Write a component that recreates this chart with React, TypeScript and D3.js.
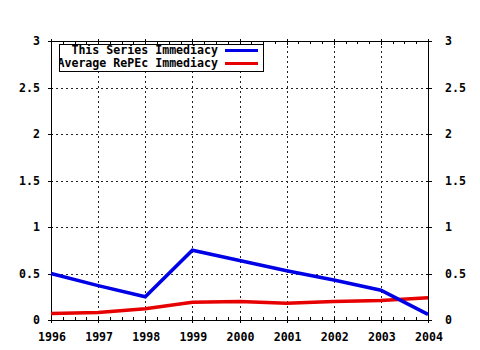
import React from "react";
import * as d3 from "d3";

const years = [1996, 1997, 1998, 1999, 2000, 2001, 2002, 2003, 2004];
const seriesImmediacy = [0.5, 0.37, 0.25, 0.75, 0.64, 0.53, 0.43, 0.32, 0.06];
const repecImmediacy = [0.07, 0.08, 0.12, 0.19, 0.2, 0.18, 0.2, 0.21, 0.24];
const yTicks = [0, 0.5, 1, 1.5, 2, 2.5, 3];
const yTickLabels = ["0", "0.5", "1", "1.5", "2", "2.5", "3"];
const legendLabels = ["This Series Immediacy", "Average RePEc Immediacy"];

const W = 480, H = 350;
const L = 51, R = 428, T = 41, B = 320;
const font = "'DejaVu Sans Mono', monospace";
const BLUE = "#0000e6";
const RED = "#e60000";

export default function App() {
  const x = d3.scaleLinear().domain([1996, 2004]).range([L, R]);
  const y = d3.scaleLinear().domain([0, 3]).range([B, T]);
  const line = d3.line<number>().x((_, i) => x(years[i])).y((d) => y(d));
  const minor: number[] = [];
  for (let i = 0; i < years.length - 1; i++) {
    for (let k = 1; k < 4; k++) minor.push(years[i] + k / 4);
  }
  return (
    <svg width={W} height={H} style={{ position: "absolute", left: 0, top: 0, background: "#fff" }}>
      <rect x={0} y={0} width={W} height={H} fill="#fff" />
      {/* grid */}
      {years.slice(1, -1).map((yr) => (
        <line key={"gx" + yr} x1={Math.round(x(yr)) + 0.5} x2={Math.round(x(yr)) + 0.5} y1={T} y2={B} stroke="#222" strokeDasharray="2,3" strokeWidth={1} />
      ))}
      {yTicks.slice(1, -1).map((t) => (
        <line key={"gy" + t} x1={L} x2={R} y1={Math.round(y(t)) + 0.5} y2={Math.round(y(t)) + 0.5} stroke="#222" strokeDasharray="2,3" strokeWidth={1} />
      ))}
      {/* frame */}
      <rect x={L + 0.5} y={T + 0.5} width={R - L} height={B - T} fill="none" stroke="#000" strokeWidth={1} />
      {/* x ticks */}
      {years.map((yr) => (
        <g key={"xt" + yr}>
          <line x1={Math.round(x(yr)) + 0.5} x2={Math.round(x(yr)) + 0.5} y1={B - 3} y2={B + 3} stroke="#000" />
          <line x1={Math.round(x(yr)) + 0.5} x2={Math.round(x(yr)) + 0.5} y1={T - 2} y2={T + 4} stroke="#000" />
          <text x={x(yr) + 1} y={341} textAnchor="middle" fontFamily={font} fontWeight="bold" fontSize={11.6} fill="#000">{yr}</text>
        </g>
      ))}
      {minor.map((m, i) => (
        <g key={"mt" + i}>
          <line x1={Math.round(x(m)) + 0.5} x2={Math.round(x(m)) + 0.5} y1={B - 3} y2={B} stroke="#000" />
          <line x1={Math.round(x(m)) + 0.5} x2={Math.round(x(m)) + 0.5} y1={T} y2={T + 3} stroke="#000" />
        </g>
      ))}
      {/* y ticks */}
      {yTicks.map((t, i) => (
        <g key={"yt" + t}>
          <line x1={L - 3} x2={L + 2} y1={Math.round(y(t)) + 0.5} y2={Math.round(y(t)) + 0.5} stroke="#000" />
          <line x1={R - 2} x2={R + 4} y1={Math.round(y(t)) + 0.5} y2={Math.round(y(t)) + 0.5} stroke="#000" />
          <text x={40} y={y(t) + 4} textAnchor="end" fontFamily={font} fontWeight="bold" fontSize={11.6} fill="#000">{yTickLabels[i]}</text>
          <text x={445} y={y(t) + 4} textAnchor="start" fontFamily={font} fontWeight="bold" fontSize={11.6} fill="#000">{yTickLabels[i]}</text>
        </g>
      ))}
      {/* series */}
      <path d={line(repecImmediacy) || ""} fill="none" stroke={RED} strokeWidth={3.5} />
      <path d={line(seriesImmediacy) || ""} fill="none" stroke={BLUE} strokeWidth={3.5} />
      {/* legend */}
      <rect x={59.5} y={44.5} width={204} height={27} fill="#fff" stroke="#000" strokeWidth={1} />
      <svg x={60} y={45} width={203} height={26} overflow="hidden">
        {legendLabels.map((lab, i) => (
          <g key={lab}>
            <text x={218 - 60} y={9 + i * 13} textAnchor="end" fontFamily={font} fontWeight="bold" fontSize={11.6} fill="#000">{lab}</text>
            <line x1={225 - 60} x2={258 - 60} y1={5.5 + i * 13} y2={5.5 + i * 13} stroke={i === 0 ? BLUE : RED} strokeWidth={3} />
          </g>
        ))}
      </svg>
    </svg>
  );
}
